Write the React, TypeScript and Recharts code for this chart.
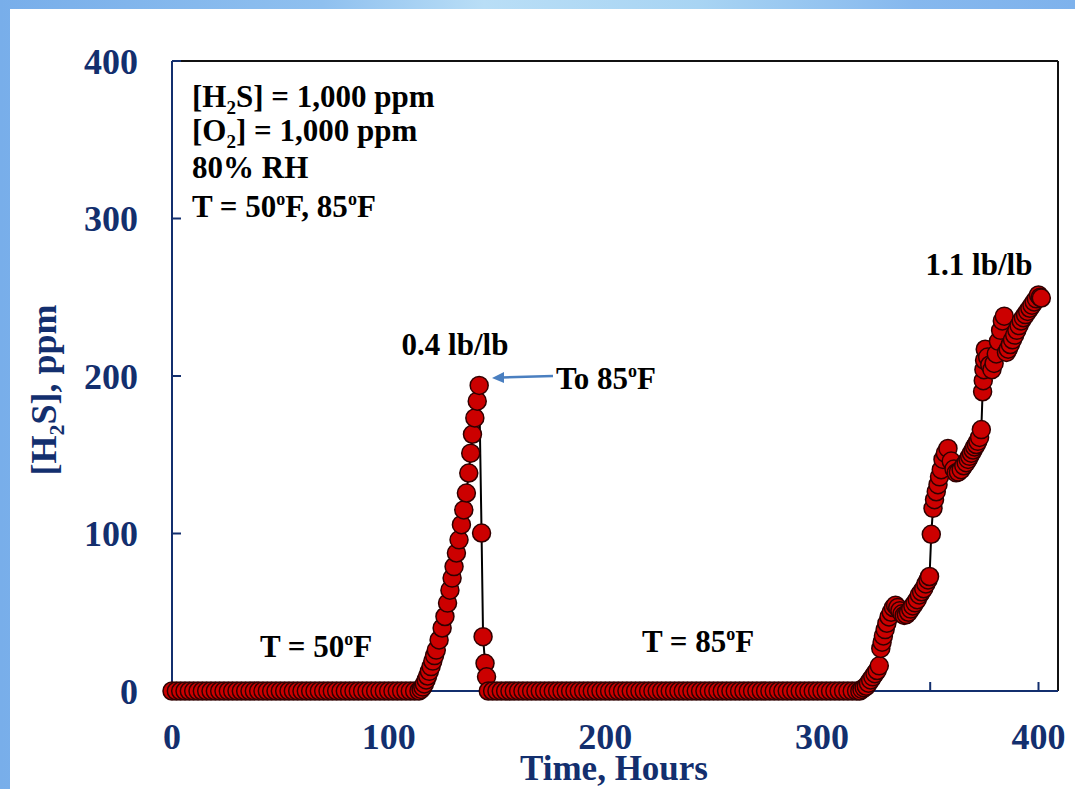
import React from "react";
import { LineChart, Line, XAxis, YAxis, ReferenceLine } from "recharts";

// ---- data ----
// 50°F phase: flat zero readings (hours)
const flat50Times = [0, 2, 4, 6, 8, 10, 12, 14, 16, 18, 20, 22, 24, 26, 28, 30, 32, 34, 36, 38, 40, 42, 44, 46, 48, 50, 52, 54, 56, 58, 60, 62, 64, 66, 68, 70, 72, 74, 76, 78, 80, 82, 84, 86, 88, 90, 92, 94, 96, 98, 100, 102, 104, 106, 108, 110, 112];
// first breakthrough (hours, ppm)
const rise1: [number, number][] = [
  [114, 0], [115, 1], [115.8, 2.5], [116.5, 4.5], [117.3, 7], [118, 9.5], [118.8, 12.5], [119.6, 15.5],
  [120.4, 19], [121.2, 22.5], [122, 26], [123.3, 32.4], [124.7, 40], [126, 47.3], [127.2, 55.8],
  [128.3, 64], [129.3, 71.7], [130.2, 79], [131.3, 87.6], [132.5, 96], [133.6, 105.6], [134.7, 115],
  [135.9, 125.7], [137, 138.4], [137.9, 151], [138.7, 163], [139.8, 173.4], [140.9, 184], [141.8, 194],
];
// after switching to 85°F
const fall1: [number, number][] = [[142.9, 100.3], [143.6, 34.5], [144.5, 17.6], [145.2, 9]];
// 85°F phase: flat zero readings (hours)
const flat85Times = [146, 148, 150, 152, 154, 156, 158, 160, 162, 164, 166, 168, 170, 172, 174, 176, 178, 180, 182, 184, 186, 188, 190, 192, 194, 196, 198, 200, 202, 204, 206, 208, 210, 212, 214, 216, 218, 220, 222, 224, 226, 228, 230, 232, 234, 236, 238, 240, 242, 244, 246, 248, 250, 252, 254, 256, 258, 260, 262, 264, 266, 268, 270, 272, 274, 276, 278, 280, 282, 284, 286, 288, 290, 292, 294, 296, 298, 300, 302, 304, 306, 308, 310, 312, 314, 316];
// second breakthrough (hours, ppm)
const rise2: [number, number][] = [
  [317.5, 0], [318.5, 1], [319.5, 2], [320.5, 3], [321.5, 5], [322.5, 7], [323.5, 9], [324.5, 11],
  [325.5, 13], [326.5, 16], [327.2, 27], [327.8, 31], [328.4, 35], [329.2, 39], [330, 43], [331, 47],
  [332, 50], [333, 53], [334, 54.5], [335, 53], [336, 51], [337, 49], [338, 48], [339, 48.5], [340, 50],
  [341, 52], [342, 54], [343, 56], [344, 58], [345, 61], [346, 63], [347, 65], [348, 68], [349, 70.5],
  [349.7, 72.7], [350.5, 99.5], [351.3, 116], [352, 121.5], [352.8, 126.5], [353.6, 131], [354.3, 136],
  [355.1, 140.5], [355.9, 147], [357, 151], [358.2, 154], [359.7, 146], [361, 141], [362, 138.5],
  [363, 139], [364.3, 140.5], [365.5, 143], [366.6, 145], [367.5, 147], [368.2, 149], [369, 151],
  [369.8, 153], [370.5, 155], [371.3, 156.5], [372, 158.5], [372.8, 161], [373.6, 166], [374.2, 190],
  [374.5, 197], [374.8, 204], [375.1, 210], [375.4, 217], [376.5, 212], [377.5, 207], [378.5, 204],
  [379.5, 208], [380.5, 214], [381.5, 222], [382.5, 229], [383.3, 235], [384.2, 238], [385.2, 215],
  [386, 217], [387, 220], [388, 223], [389, 226], [390, 229], [391, 232], [392, 235], [393, 237],
  [394, 239], [395, 241], [396, 243], [397, 245], [398, 247], [399, 249], [400, 251.5], [400.8, 250],
  [401.3, 249.5],
];

const xTicks = [0, 50, 100, 150, 200, 250, 300, 350, 400];
const yTicks = [0, 100, 200, 300, 400];
const xMax = 409;
const yMax = 400;

const data = [
  ...flat50Times.map((t) => ({ t, v: 0 })),
  ...rise1.map(([t, v]) => ({ t, v })),
  ...fall1.map(([t, v]) => ({ t, v })),
  ...flat85Times.map((t) => ({ t, v: 0 })),
  ...rise2.map(([t, v]) => ({ t, v })),
];

const NAVY = "#132f6e";
const FONT = "'Liberation Serif', 'Times New Roman', serif";

const XTick = (props: any) => {
  const { x, y, payload } = props;
  if (payload.value % 100 !== 0) return null;
  return (
    <text x={x} y={y} dy="0.66em" textAnchor="middle" fill={NAVY} fontFamily={FONT} fontWeight="bold" fontSize={36}>
      {payload.value}
    </text>
  );
};

const YTick = (props: any) => {
  const { x, y, payload } = props;
  return (
    <text x={x} y={y} dy="0.35em" textAnchor="end" fill={NAVY} fontFamily={FONT} fontWeight="bold" fontSize={36}>
      {payload.value}
    </text>
  );
};

export default function App() {
  return (
    <div style={{ position: "absolute", left: 0, top: 0, width: 1075, height: 789, overflow: "hidden",
      background: "linear-gradient(to right, #78aeea 0%, #8fc0ef 30%, #b9def6 45%, #a8d4f3 65%, #86b8ee 85%, #7eb2ec 100%)" }}>
      <div style={{ position: "absolute", left: 10, top: 9, width: 1065, height: 780, background: "#ffffff" }} />
      <div style={{ position: "absolute", left: 0, top: 0 }}>
        <LineChart width={1075} height={789} data={data} margin={{ top: 61, right: 17, bottom: 0, left: 0 }}>
          <XAxis
            dataKey="t"
            type="number"
            domain={[0, xMax]}
            ticks={xTicks}
            interval={0}
            height={98}
            axisLine={{ stroke: NAVY, strokeWidth: 2 }}
            tickLine={{ stroke: NAVY, strokeWidth: 2 }}
            tickSize={-9}
            tickMargin={43}
            tick={<XTick />}
          />
          <YAxis
            type="number"
            domain={[0, yMax]}
            ticks={yTicks}
            interval={0}
            width={172}
            axisLine={{ stroke: NAVY, strokeWidth: 2 }}
            tickLine={{ stroke: NAVY, strokeWidth: 2 }}
            tickSize={-9}
            tickMargin={43}
            tick={<YTick />}
          />
          <ReferenceLine y={yMax} stroke="#111" strokeWidth={2} />
          <ReferenceLine x={xMax} stroke="#111" strokeWidth={2} />
          <Line
            dataKey="v"
            type="linear"
            stroke="#000"
            strokeWidth={2}
            isAnimationActive={false}
            dot={{ r: 9, fill: "#cc0000", stroke: "#300000", strokeWidth: 1.5, clipDot: false }}
          />
        </LineChart>
      </div>
      <svg width={1075} height={789} style={{ position: "absolute", left: 0, top: 0, pointerEvents: "none" }}>
        <g fontFamily={FONT} fontWeight="bold">
          <text x={614} y={780} textAnchor="middle" fontSize={35} fill={NAVY}>Time, Hours</text>
          <text transform="translate(56, 390) rotate(-90)" textAnchor="middle" fontSize={36} fill={NAVY}>
            [H<tspan fontSize={22} dy={8}>2</tspan><tspan dy={-8}>S], ppm</tspan>
          </text>
          <g fontSize={31} fill="#000">
            <text x={192} y={107}>[H<tspan fontSize={19} dy={7}>2</tspan><tspan dy={-7}>S] = 1,000 ppm</tspan></text>
            <text x={192} y={141}>[O<tspan fontSize={19} dy={7}>2</tspan><tspan dy={-7}>] = 1,000 ppm</tspan></text>
            <text x={192} y={178}>80% RH</text>
            <text x={192} y={217}>T = 50<tspan fontSize={18} dy={-12}>o</tspan><tspan dy={12}>F, 85</tspan><tspan fontSize={18} dy={-12}>o</tspan><tspan dy={12}>F</tspan></text>
            <text x={455} y={355} textAnchor="middle">0.4 lb/lb</text>
            <text x={556} y={389}>To 85<tspan fontSize={18} dy={-12}>o</tspan><tspan dy={12}>F</tspan></text>
            <text x={979} y={275} textAnchor="middle">1.1 lb/lb</text>
            <text x={260} y={657}>T = 50<tspan fontSize={18} dy={-12}>o</tspan><tspan dy={12}>F</tspan></text>
            <text x={642} y={652}>T = 85<tspan fontSize={18} dy={-12}>o</tspan><tspan dy={12}>F</tspan></text>
          </g>
          <line x1={553} y1={376} x2={502} y2={377.5} stroke="#4a7fc0" strokeWidth={2.5} />
          <polygon points="492,378 504,372 504,383" fill="#4a7fc0" />
        </g>
      </svg>
    </div>
  );
}
